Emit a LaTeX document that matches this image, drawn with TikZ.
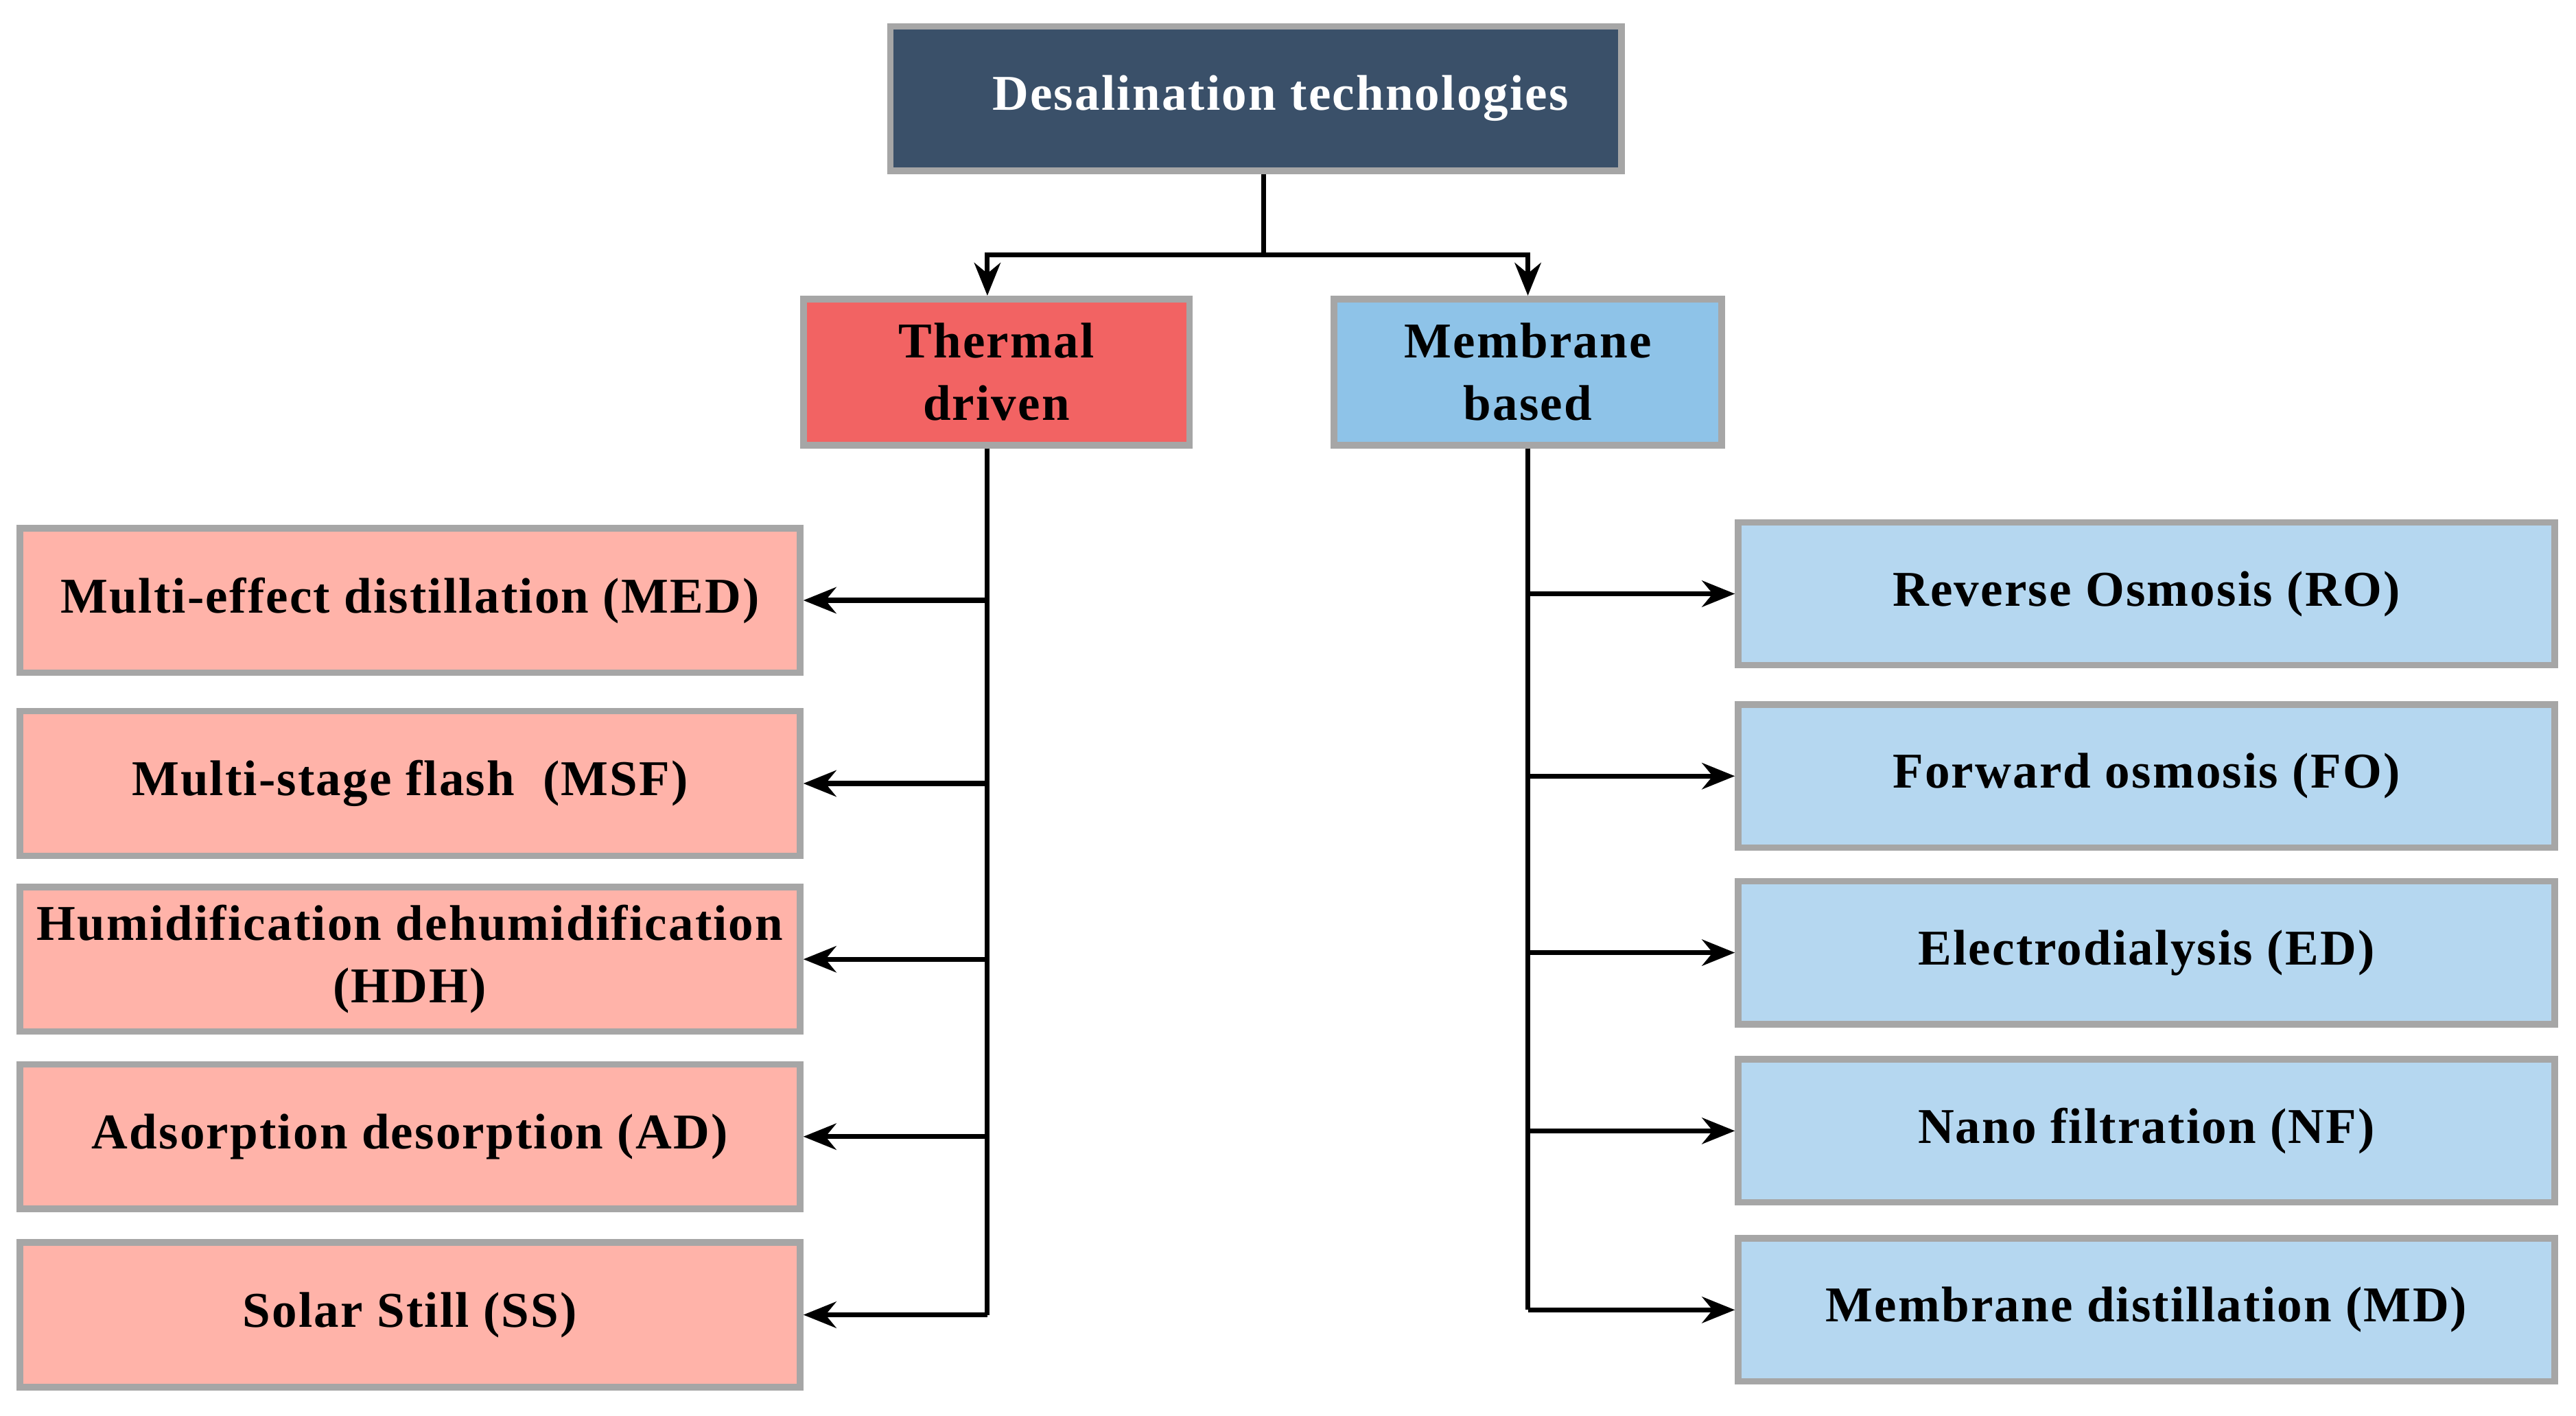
\documentclass[tikz,border=0pt]{standalone}
\usepackage{fontspec}
\setmainfont{Liberation Serif}[LetterSpace=3]
\usetikzlibrary{arrows.meta}
\definecolor{topc}{HTML}{3A5069}
\definecolor{thc}{HTML}{F26363}
\definecolor{mbc}{HTML}{8EC3E8}
\definecolor{lc}{HTML}{FFB3A9}
\definecolor{rc}{HTML}{B5D7F0}
\definecolor{bd}{HTML}{A6A6A6}
\begin{document}
\begin{tikzpicture}[x=1pt,y=-1pt,
 bx/.style={draw=bd,line width=4pt,font=\bfseries\fontsize{30.5}{38}\selectfont,align=center,inner sep=0pt},
 ar/.style={line width=3pt,-{Stealth[length=20pt,width=16pt]}}]
\useasboundingbox (0,0) rectangle (1568,862);
\node[bx,fill=topc,text=white,minimum width=445,minimum height=88] (top) at (764.5,60) {\hspace{30pt}Desalination technologies};
\node[bx,fill=thc,minimum width=235,minimum height=89] (th) at (606.5,226.5) {Thermal\\driven};
\node[bx,fill=mbc,minimum width=236,minimum height=89] (mb) at (930,226.5) {Membrane\\based};
\foreach \n/\y/\t in {l1/365.5/Multi-effect distillation (MED),l2/477/Multi-stage flash\ \ (MSF),l3/584/Humidification dehumidification\\(HDH),l4/692/Adsorption desorption (AD),l5/800.5/Solar Still (SS)}
 \node[bx,fill=lc,minimum width=475,minimum height=88] (\n) at (249.5,\y) {\t};
\foreach \n/\y/\t in {r1/361.5/Reverse Osmosis (RO),r2/472.5/Forward osmosis (FO),r3/580/Electrodialysis (ED),r4/688.5/Nano filtration (NF),r5/797.5/Membrane distillation (MD)}
 \node[bx,fill=rc,minimum width=497,minimum height=87] (\n) at (1306.5,\y) {\t};
\coordinate (tj) at (769,155);
\draw[line width=3pt] (top.south -| tj) -- (tj);
\draw[ar] (tj) -| (th.north -| 601,0);
\draw[ar] (tj) -| (mb.north);
\draw[line width=3pt] (th.south -| 601,0) -- (601,800.5);
\draw[line width=3pt] (mb.south) -- (930,797.5);
\foreach \n in {l1,l2,l3,l4,l5} \draw[ar] (\n.east -| 601,0) -- (\n.east);
\foreach \n in {r1,r2,r3,r4,r5} \draw[ar] (\n.west -| 930,0) -- (\n.west);
\end{tikzpicture}
\end{document}
